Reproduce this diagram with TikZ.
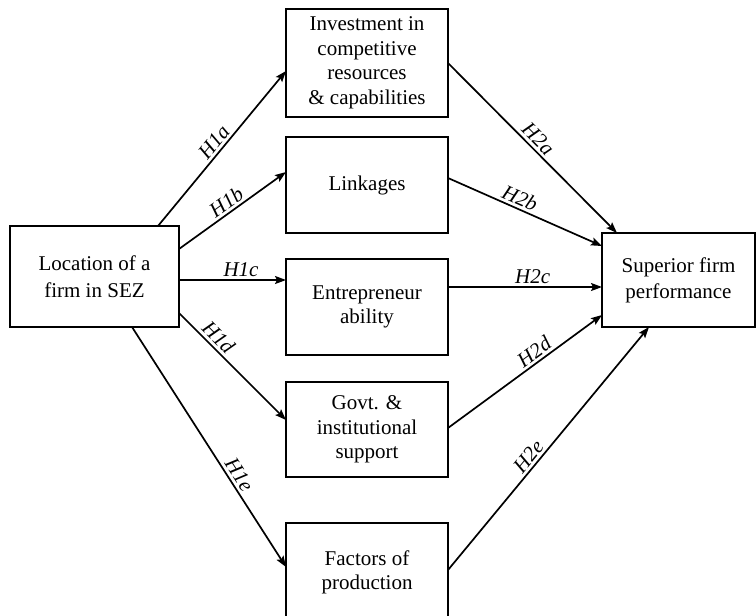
\documentclass[tikz,border=0pt]{standalone}
\usepackage{fontspec}
\setmainfont{Liberation Serif}
\usetikzlibrary{arrows.meta}
\begin{document}
\begin{tikzpicture}[x=1pt,y=-1pt,
  box/.style={draw,line width=1.5pt,inner sep=0pt,outer sep=0pt,align=center,
    font=\fontsize{21}{24.5}\selectfont},
  arr/.style={line width=1.7pt,-{Stealth[length=11pt,width=8pt,inset=2pt]}},
  lab/.style={sloped,above,inner sep=2.5pt,font=\fontsize{21}{24}\selectfont\itshape}]
\useasboundingbox (0,0) rectangle (756,616);
\node[box,minimum width=169pt,minimum height=101pt,font=\fontsize{21}{26.5}\selectfont] (L) at (94.5,276.5) {Location of a\\firm in SEZ};
\node[box,minimum width=162pt,minimum height=108pt] (B1) at (367,63) {Investment in\\competitive\\resources\\\& capabilities};
\node[box,minimum width=162pt,minimum height=96pt] (B2) at (367,185) {Linkages};
\node[box,minimum width=162pt,minimum height=96pt] (B3) at (367,307) {Entrepreneur\\ability};
\node[box,minimum width=162pt,minimum height=95pt] (B4) at (367,429.5) {Govt. \&\\institutional\\support};
\node[box,minimum width=162pt,minimum height=99pt] (B5) at (367,572.5) {Factors of\\production};
\node[box,minimum width=153pt,minimum height=94pt,font=\fontsize{21}{26}\selectfont] (R) at (678.5,280) {Superior firm\\performance};
% H1 arrows
\draw[arr] ([xshift=-21pt]L.north east) -- node[lab,pos=0.5]{H1a} ([yshift=-8pt]B1.west);
\draw[arr] ([yshift=27.5pt]L.east) -- node[lab,pos=0.5]{H1b} ([yshift=13pt]B2.west);
\draw[arr] ([yshift=-3.5pt]L.east) -- node[lab,pos=0.58]{H1c} ([yshift=27pt]B3.west);
\draw[arr] ([yshift=-36.5pt]L.east) -- node[lab,pos=0.3]{H1d} ([yshift=9.5pt]B4.west);
\draw[arr] ([xshift=37.5pt]L.south) -- node[lab,pos=0.64]{H1e} ([yshift=5.5pt]B5.west);
% H2 arrows
\draw[arr] (B1.east) -- node[lab,pos=0.49]{H2a} ([xshift=15pt]R.north west);
\draw[arr] ([yshift=7pt]B2.east) -- node[lab,pos=0.44]{H2b} ([yshift=34pt]R.west);
\draw[arr] ([yshift=20pt]B3.east) -- node[lab,pos=0.55]{H2c} ([yshift=-7pt]R.west);
\draw[arr] ([yshift=1.5pt]B4.east) -- node[lab,pos=0.6]{H2d} ([yshift=-35pt]R.west);
\draw[arr] ([yshift=2.5pt]B5.east) -- node[lab,pos=0.44]{H2e} ([xshift=47pt]R.south west);
\end{tikzpicture}
\end{document}
